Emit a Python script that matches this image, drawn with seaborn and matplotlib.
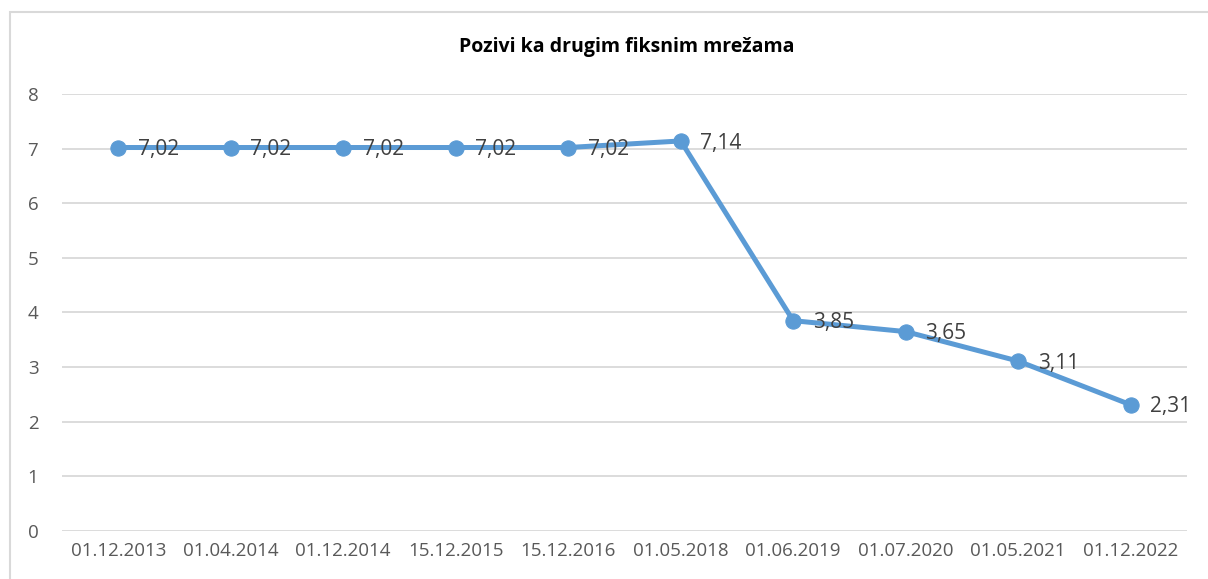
import pandas as pd
import seaborn as sns
import matplotlib.pyplot as plt
from matplotlib.patches import Rectangle

dates = ["01.12.2013", "01.04.2014", "01.12.2014", "15.12.2015", "15.12.2016",
         "01.05.2018", "01.06.2019", "01.07.2020", "01.05.2021", "01.12.2022"]
values = [7.02, 7.02, 7.02, 7.02, 7.02, 7.14, 3.85, 3.65, 3.11, 2.31]
title = "Pozivi ka drugim fiksnim mrežama"

df = pd.DataFrame({"datum": dates, "vrijednost": values})
df["pos"] = range(len(df))

sns.set_theme(style="white")
plt.rcParams["font.family"] = ["Open Sans", "DejaVu Sans"]

fig = plt.figure(figsize=(12.08, 5.79), dpi=100)
ax = fig.add_axes([0.0513, 0.0829, 0.9313, 0.7548])

# outer chart frame (Excel-style)
fig.patches.append(Rectangle((10 / 1208, -0.05), 1.2, 1 - 12 / 579 + 0.05,
                             transform=fig.transFigure, fill=False,
                             edgecolor="#d9d9d9", linewidth=1.5))

blue = "#5b9bd5"
sns.lineplot(data=df, x="pos", y="vrijednost", ax=ax, color=blue,
             linewidth=3.6, marker="o", markersize=11,
             markeredgecolor=blue, markerfacecolor=blue, zorder=3)

for _, r in df.iterrows():
    ax.annotate(f"{r['vrijednost']:.2f}".replace(".", ","),
                (r["pos"], r["vrijednost"]), xytext=(14, -1.5),
                textcoords="offset points", ha="left", va="center",
                fontsize=15, color="#404040", zorder=4)

ax.set_xlim(-0.5, len(df) - 0.5)
ax.set_ylim(0, 8)
ax.set_yticks(range(0, 9))
ax.set_xticks(df["pos"])
ax.set_xticklabels(df["datum"])
ax.tick_params(axis="both", labelsize=13.5, labelcolor="#595959", length=0)
ax.tick_params(axis="y", pad=17)
ax.tick_params(axis="x", pad=8)
ax.yaxis.grid(True, color="#d9d9d9", linewidth=1.3)
ax.set_axisbelow(True)
for s in ax.spines.values():
    s.set_visible(False)
ax.set_xlabel("")
ax.set_ylabel("")

fig.text(0.5192, 1 - 47 / 579, title, ha="center", va="center",
         fontsize=14, fontweight="bold", color="black")

fig.savefig("out.png", dpi=100)
